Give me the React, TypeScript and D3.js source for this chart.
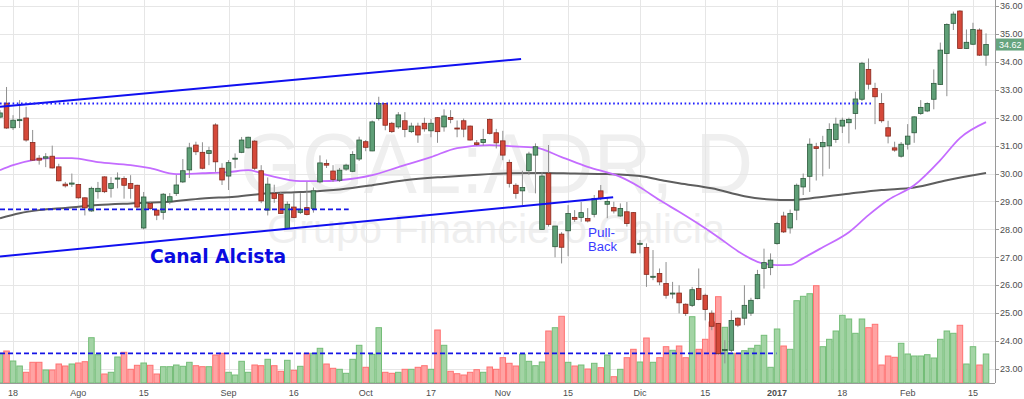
import React from 'react';
import * as d3 from 'd3';

const W = 1024;
const H = 399;

// OHLC per trading session (mid-Jul 2016 .. mid-Feb 2017)
const openP = [32.02,32.52,31.64,31.90,31.99,31.11,30.55,30.55,30.62,30.24,29.62,29.62,29.61,29.13,28.66,29.35,29.88,29.47,29.80,29.82,
29.64,29.58,28.05,28.93,28.69,28.61,28.99,29.29,29.70,30.13,31.02,30.76,30.72,31.74,30.19,29.91,30.52,30.76,30.92,31.16,
30.10,28.69,29.29,29.25,28.03,28.80,28.61,28.78,28.75,29.70,30.36,30.09,29.76,30.16,30.08,30.52,31.14,30.81,31.97,32.51,
31.80,31.67,31.89,31.50,31.70,31.80,31.53,32.00,31.67,32.01,31.63,31.89,31.70,31.10,31.11,31.94,31.46,31.17,30.40,29.58,
29.38,30.10,30.66,28.00,30.01,27.38,27.83,27.95,28.43,28.43,28.39,28.54,29.38,28.90,28.78,28.48,28.63,28.60,27.48,27.35,
26.30,26.42,26.06,25.70,25.72,25.32,25.28,25.88,25.64,25.00,24.63,23.66,23.67,24.82,24.82,25.00,25.52,26.60,26.63,27.49,
28.48,28.05,28.69,29.52,29.90,30.96,30.96,30.99,31.22,31.70,31.82,32.15,32.66,33.73,33.05,32.51,31.64,30.92,30.62,31.05,
31.46,32.15,32.24,32.66,33.19,34.30,35.38,35.82,34.48,34.63,35.14,34.24];
const highP = [32.27,33.10,32.09,32.63,32.39,31.56,30.66,30.73,31.00,30.35,29.70,30.00,29.63,29.15,29.53,29.70,29.90,29.87,30.04,29.90,
29.94,29.60,29.34,29.00,28.72,29.30,29.30,29.95,30.52,31.10,31.14,31.12,30.96,31.80,30.37,30.48,30.72,31.31,31.32,31.20,
30.30,29.86,29.60,29.35,29.00,29.30,29.30,29.70,29.50,30.65,30.50,30.30,30.20,30.35,30.80,31.32,31.20,31.90,32.75,32.52,
31.85,32.20,32.20,31.82,31.82,32.00,31.95,32.02,32.30,32.27,31.90,31.97,31.72,31.20,31.60,31.97,31.60,31.53,30.50,29.65,
30.10,30.78,31.08,30.06,31.02,28.12,27.90,28.87,28.69,28.98,28.76,29.23,29.59,29.16,28.99,28.93,28.98,28.62,27.62,27.50,
27.26,26.60,26.83,26.12,26.00,25.35,25.94,26.60,25.70,25.10,24.65,24.03,25.10,24.85,26.00,25.55,26.55,27.31,27.14,28.27,
28.63,28.71,29.64,30.00,31.26,31.10,31.35,31.80,32.00,32.00,32.00,32.93,34.00,34.12,33.25,32.88,31.89,31.14,31.13,31.77,
32.05,32.63,32.55,33.73,34.69,35.38,35.80,35.85,35.16,35.40,35.20,35.02];
const lowP = [31.98,31.60,31.56,31.63,31.14,30.45,30.32,30.23,30.18,29.72,29.50,29.52,29.10,28.50,28.63,29.10,29.30,29.14,29.47,29.10,
29.10,28.75,28.00,28.70,28.33,28.35,28.90,29.20,29.66,29.84,30.66,30.15,30.30,30.06,29.59,29.41,30.19,30.73,30.90,30.13,
28.94,28.50,28.95,28.55,28.03,28.40,28.55,28.50,28.60,29.65,30.20,29.70,29.70,30.10,30.05,30.45,30.80,30.80,31.90,31.55,
31.45,31.60,31.30,31.45,31.10,31.50,31.30,31.10,31.50,31.80,31.30,31.30,31.18,31.00,31.00,31.40,30.90,30.48,29.50,29.10,
28.87,29.95,29.29,28.00,28.10,27.00,26.78,27.04,28.27,28.27,28.25,28.43,29.05,28.40,28.57,28.45,28.10,27.14,27.14,25.94,
26.18,26.00,25.52,25.52,24.99,24.90,25.22,25.46,24.74,24.39,23.50,23.20,23.60,24.50,24.57,24.90,25.50,25.88,26.36,27.45,
27.87,27.85,28.33,29.23,29.34,29.75,29.90,30.17,31.10,31.45,31.08,31.58,32.60,33.01,31.77,31.82,31.08,30.78,30.57,30.86,
31.10,32.10,32.20,32.30,33.17,32.77,35.14,34.48,34.46,34.60,34.21,33.86];
const closeP = [32.17,31.63,31.91,31.93,31.20,30.48,30.48,30.60,30.20,29.74,29.56,29.66,29.13,28.77,29.47,29.47,29.35,29.64,29.84,29.58,
29.47,28.80,29.16,28.75,28.51,29.26,29.17,29.59,30.10,30.92,30.78,30.19,30.82,30.42,29.77,30.39,30.55,31.20,31.30,30.19,
29.02,29.62,29.11,28.57,28.90,28.43,28.72,28.53,29.38,30.38,30.30,29.79,30.12,30.30,30.68,31.20,30.94,31.85,32.51,31.73,
31.50,32.10,31.58,31.70,31.38,31.60,31.80,31.50,32.06,31.94,31.60,31.59,31.20,31.04,31.22,31.44,31.10,30.66,29.65,29.29,
29.50,30.70,30.96,29.91,28.18,28.12,27.36,28.57,28.36,28.60,28.30,29.11,29.11,29.00,28.66,28.75,28.21,27.16,27.50,26.39,
26.32,26.12,25.64,25.72,25.37,24.99,25.84,25.49,25.13,24.53,23.55,23.70,24.74,24.57,25.28,25.46,26.38,26.81,26.90,28.21,
27.91,28.57,29.58,29.82,31.05,30.90,31.11,31.58,31.77,31.91,31.94,32.67,33.95,33.20,32.75,31.89,31.34,30.84,31.05,31.34,
32.03,32.37,32.51,33.23,34.42,35.34,35.71,34.48,34.70,35.16,34.24,34.62];
const volume = [297,320,220,170,107,207,207,130,130,190,170,190,200,213,453,283,90,107,260,307,
137,177,200,177,90,163,163,180,167,207,173,163,163,280,297,107,80,217,107,180,
173,237,173,117,227,127,167,297,297,347,190,147,137,97,237,377,157,287,553,107,
97,107,137,137,157,173,137,530,377,117,93,80,107,133,107,160,137,253,197,170,
287,217,173,210,520,553,667,207,170,180,140,197,153,280,63,137,253,337,210,450,
207,253,363,327,370,253,663,337,437,610,863,557,297,297,323,347,377,477,157,540,
370,337,823,867,893,973,363,437,520,677,640,497,640,553,587,180,270,257,397,290,
270,270,283,250,437,520,497,577,190,363,180,290];

// date axis
const tickIdx = [2, 12, 22, 35, 45, 56, 66, 77, 87, 98, 108, 119, 129, 139, 149];
const tickLabel = ['18', 'Ago', '15', 'Sep', '16', 'Oct', '17', 'Nov', '15', 'Dic', '15', '2017', '18', 'Feb', '15'];
const priceTicks = [23, 24, 25, 26, 27, 28, 29, 30, 31, 32, 33, 34, 35, 36];

// moving averages: [session index, price]
const maFast = [[0,30.12],[2,30.30],[5,30.48],[8,30.55],[11,30.55],[15,30.41],[20,30.30],[23,30.19],[27,29.98],[31,30.01],
[35,30.05],[38,30.12],[41,29.94],[46,29.73],[49,29.73],[52,29.76],[57,29.94],[61,30.23],[66,30.59],[70,30.91],[75,31.02],
[78,30.98],[82,30.93],[86,30.59],[90,30.24],[95,29.88],[98,29.51],[101,29.05],[104,28.63],[107,28.19],[110,27.72],[113,27.22],
[116,26.84],[119,26.72],[121,26.73],[123,26.97],[126,27.36],[130,27.90],[133,28.51],[136,29.05],[140,29.58],[144,30.48],
[147,31.27],[151,31.84]];
const maSlow = [[0,28.40],[3,28.58],[6,28.69],[10,28.77],[15,28.87],[20,28.93],[26,28.99],[31,29.11],[36,29.17],[41,29.29],
[46,29.34],[52,29.43],[57,29.58],[62,29.76],[68,29.88],[72,29.94],[78,30.01],[83,30.02],[88,30.00],[93,29.98],[98,29.91],
[102,29.73],[104,29.65],[109,29.47],[114,29.19],[118,29.07],[121,29.05],[124,29.11],[130,29.28],[135,29.41],[140,29.50],
[145,29.76],[151,30.02]];

// drawings
const channelUpper = [[0, 32.39], [79.8, 34.10]];
const channelLower = [[0, 27.03], [93.9, 29.15]];
const resistance = [[0, 32.51], [133.6, 32.51]];
const support = [[0, 28.72], [53.4, 28.72]];
const volumeLevel = [[0, 297], [118.9, 297]];
const lastPrice = 34.62;

const PLOT_R = 995;
const PLOT_B = 383;

export default function App() {
  const n = closeP.length;
  const x = d3.scaleLinear().domain([0, n - 1]).range([0, 6.53 * (n - 1)]);
  const y = d3.scaleLinear().domain([23, 36]).range([369, 6]);
  const yv = d3.scaleLinear().domain([0, 1000]).range([PLOT_B, PLOT_B - 100]);
  const step = x(1) - x(0);
  const bodyW = 4.6;

  const line = d3.line<number[]>().x(d => x(d[0])).y(d => y(d[1])).curve(d3.curveMonotoneX);
  const straight = d3.line<number[]>().x(d => x(d[0])).y(d => y(d[1]));
  const straightV = d3.line<number[]>().x(d => x(d[0])).y(d => yv(d[1]));

  const idx = d3.range(n);
  const font = '"Liberation Sans", Arial, sans-serif';

  return (
    <svg width={W} height={H} style={{ position: 'absolute', left: 0, top: 0, background: '#fff' }}>
      <defs>
        <clipPath id="plot">
          <rect x={0} y={0} width={PLOT_R} height={PLOT_B} />
        </clipPath>
      </defs>
      <rect x={0} y={0} width={W} height={H} fill="#fff" />
      {/* watermark */}
      <text x={496.5} y={193} textAnchor="middle" fontFamily={font} fontSize={86} fill="#efefef"
        textLength={513} lengthAdjust="spacingAndGlyphs">GGAL:ADR, D</text>
      <text x={496} y={243} textAnchor="middle" fontFamily={font} fontSize={40} fill="#efefef"
        textLength={458} lengthAdjust="spacingAndGlyphs">Grupo Financiero Galicia</text>
      {/* grid */}
      <g stroke="#e6e6e6" strokeWidth={1}>
        {priceTicks.map(p => (
          <line key={'h' + p} x1={0} x2={PLOT_R} y1={Math.round(y(p)) + 0.5} y2={Math.round(y(p)) + 0.5} />
        ))}
        {tickIdx.map(i => (
          <line key={'v' + i} x1={Math.round(x(i)) + 0.5} x2={Math.round(x(i)) + 0.5} y1={0} y2={PLOT_B} />
        ))}
      </g>
      <g clipPath="url(#plot)">
        {/* volume */}
        {idx.map(i => {
          const up = closeP[i] >= openP[i];
          return (
            <rect key={'v' + i} x={x(i) - step / 2 + 0.5} width={step - 1} y={yv(volume[i])}
              height={PLOT_B - yv(volume[i])}
              fill={up ? '#a3d4a5' : '#ffa3a3'} stroke={up ? '#74bd77' : '#ff7272'} strokeWidth={1} />
          );
        })}
        <path d={straightV(volumeLevel) || ''} stroke="#1515e6" strokeWidth={1.8} strokeDasharray="5,3" fill="none" />
        {/* moving averages */}
        <path d={line(maSlow) || ''} stroke="#5e5e5e" strokeWidth={2} fill="none" />
        <path d={line(maFast) || ''} stroke="#c46cff" strokeWidth={1.8} fill="none" />
        {/* candles */}
        {idx.map(i => {
          const up = closeP[i] >= openP[i];
          const top = y(Math.max(openP[i], closeP[i]));
          const bot = y(Math.min(openP[i], closeP[i]));
          const cx = x(i);
          return (
            <g key={'c' + i}>
              <line x1={cx} x2={cx} y1={y(highP[i])} y2={y(lowP[i])} stroke="#8f8f8f" strokeWidth={1} />
              <rect x={cx - bodyW / 2} width={bodyW} y={top} height={Math.max(bot - top, 1)}
                fill={up ? '#5f9f77' : '#d5493a'} stroke={up ? '#2d5a3c' : '#86281c'} strokeWidth={0.8} />
            </g>
          );
        })}
        {/* drawings */}
        <path d={straight(channelUpper) || ''} stroke="#1010f0" strokeWidth={2} fill="none" />
        <path d={straight(channelLower) || ''} stroke="#1010f0" strokeWidth={2} fill="none" />
        <path d={straight(resistance) || ''} stroke="#2020ff" strokeWidth={2} strokeDasharray="1.6,2.6" fill="none" />
        <path d={straight(support) || ''} stroke="#1515e6" strokeWidth={1.8} strokeDasharray="5,3" fill="none" />
      </g>
      <text x={150} y={263} fontFamily='"DejaVu Sans", Verdana, sans-serif' fontWeight="bold" fontSize={19}
        fill="#0b0be0" textLength={136} lengthAdjust="spacingAndGlyphs">Canal Alcista</text>
      <text x={588} y={237} fontFamily={font} fontSize={12} fill="#3a3aff"
        textLength={27} lengthAdjust="spacingAndGlyphs">Pull-</text>
      <text x={588} y={250.8} fontFamily={font} fontSize={12} fill="#3a3aff"
        textLength={29} lengthAdjust="spacingAndGlyphs">Back</text>
      {/* axes */}
      <line x1={PLOT_R + 0.5} x2={PLOT_R + 0.5} y1={0} y2={PLOT_B} stroke="#9a9a9a" />
      <line x1={0} x2={PLOT_R} y1={PLOT_B + 0.5} y2={PLOT_B + 0.5} stroke="#9a9a9a" />
      {priceTicks.map(p => (
        <g key={'yt' + p}>
          <line x1={PLOT_R} x2={PLOT_R + 4} y1={Math.round(y(p)) + 0.5} y2={Math.round(y(p)) + 0.5} stroke="#9a9a9a" />
          <text x={1000} y={y(p) + 3.2} fontFamily={font} fontSize={9} fill="#4d4d4d">{p.toFixed(2)}</text>
        </g>
      ))}
      {tickIdx.map((i, k) => (
        <text key={'xt' + i} x={x(i)} y={396} textAnchor="middle" fontFamily={font} fontSize={9}
          fontWeight={tickLabel[k] === '2017' ? 'bold' : 'normal'} fill="#4d4d4d">{tickLabel[k]}</text>
      ))}
      {/* last price label */}
      <rect x={PLOT_R + 1} y={y(lastPrice) - 6} width={W - PLOT_R} height={12} fill="#66a47e" />
      <text x={999} y={y(lastPrice) + 3.2} fontFamily={font} fontSize={9} fill="#fff">{lastPrice.toFixed(2)}</text>
    </svg>
  );
}
